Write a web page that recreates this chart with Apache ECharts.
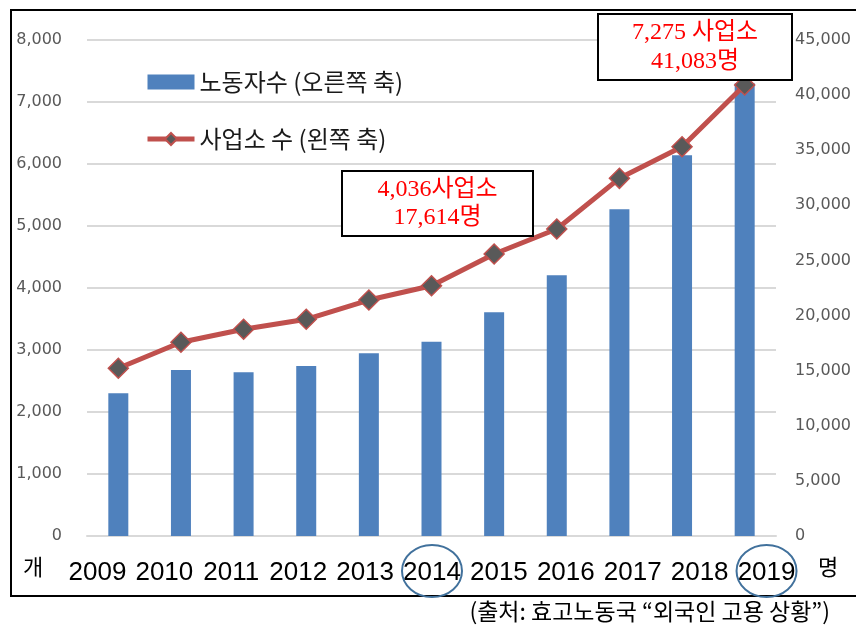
<!DOCTYPE html>
<html>
<head>
<meta charset="utf-8">
<script src="https://cdn.jsdelivr.net/npm/echarts@6/dist/echarts.min.js"></script>
<style>
  html, body { margin: 0; padding: 0; background: #fff; }
  #main { width: 856px; height: 625px; }
</style>
</head>
<body>
<div id="main"></div>
<script>
// 연도
var years = ['2009', '2010', '2011', '2012', '2013', '2014', '2015', '2016', '2017', '2018', '2019'];
// 노동자수 (명, 오른쪽 축)
var workers = [12950, 15060, 14850, 15420, 16580, 17614, 20290, 23650, 29640, 34540, 41083];
// 사업소 수 (개, 왼쪽 축)
var offices = [2705, 3124, 3334, 3495, 3806, 4036, 4548, 4952, 5769, 6279, 7275];

var barName = '노동자수 (오른쪽 축)';
var lineName = '사업소 수 (왼쪽 축)';

function comma(v) {
	return String(v).replace(/\B(?=(\d{3})+(?!\d))/g, ',');
}

var myChart = echarts.init(document.getElementById('main'));
var krFont = 'Noto Sans CJK KR, Liberation Sans, sans-serif';
var serifFont = 'Liberation Serif, Noto Sans CJK KR, serif';

var option = {
	animation: false,
	grid: [
		{ left: 87, right: 80, top: 40, bottom: 89 },
		// 연도 라벨은 원본처럼 막대보다 조금 넓게 퍼져 있다
		{ left: 64, right: 56, top: 40, bottom: 89 }
	],
	legend: {
		orient: 'vertical',
		left: 140,
		top: 65,
		itemWidth: 47,
		itemHeight: 15,
		itemGap: 33,
		textStyle: { fontSize: 24, color: '#1a1a1a', fontFamily: krFont },
		data: [
			{ name: barName, icon: 'rect', itemStyle: { borderWidth: 0 } },
			{ name: lineName, lineStyle: { width: 5 } }
		]
	},
	xAxis: [{
		type: 'category',
		data: years,
		axisTick: { show: false },
		axisLine: { lineStyle: { color: '#d9d9d9', width: 2 } },
		axisLabel: { show: false }
	}, {
		type: 'category',
		gridIndex: 1,
		data: years,
		axisTick: { show: false },
		axisLine: { show: false },
		splitLine: { show: false },
		axisLabel: { interval: 0, hideOverlap: false, color: '#000', fontSize: 26, margin: 24, fontFamily: 'Liberation Sans, Arial, sans-serif' }
	}],
	yAxis: [{
		type: 'value',
		min: 0, max: 8000, interval: 1000,
		axisLine: { show: false },
		axisTick: { show: false },
		splitLine: { lineStyle: { color: '#d9d9d9', width: 2 } },
		axisLabel: { color: '#595959', fontSize: 16, margin: 25, fontFamily: 'DejaVu Sans, sans-serif', formatter: comma }
	}, {
		type: 'value',
		min: 0, max: 45000, interval: 5000,
		axisLine: { show: false },
		axisTick: { show: false },
		splitLine: { show: false },
		axisLabel: { color: '#595959', fontSize: 16, margin: 19, fontFamily: 'DejaVu Sans, sans-serif', formatter: comma }
	}, {
		type: 'value',
		gridIndex: 1,
		show: false,
		min: 0, max: 1
	}],
	series: [{
		name: barName,
		type: 'bar',
		yAxisIndex: 1,
		data: workers,
		barWidth: 20,
		itemStyle: { color: '#4f81bd' }
	}, {
		name: lineName,
		type: 'line',
		yAxisIndex: 0,
		data: offices,
		z: 5,
		symbol: 'diamond',
		symbolSize: 20,
		lineStyle: { color: '#c0504d', width: 5 },
		itemStyle: { color: '#595959', borderColor: '#c0504d', borderWidth: 1.5 }
	}]
};
myChart.setOption(option);

// 주석, 테두리, 단위, 출처
function annoBox(x, y, w, h, line1, line2) {
	return [{
		type: 'rect', z: 20,
		shape: { x: x, y: y, width: w, height: h },
		style: { fill: '#fff', stroke: '#000', lineWidth: 2 }
	}, {
		type: 'text', z: 21, x: x + w / 2, y: y + h * 0.29,
		style: { text: line1, fill: '#ff0000', font: '24px ' + serifFont, align: 'center', verticalAlign: 'middle' }
	}, {
		type: 'text', z: 21, x: x + w / 2, y: y + h * 0.72,
		style: { text: line2, fill: '#ff0000', font: '24px ' + serifFont, align: 'center', verticalAlign: 'middle' }
	}];
}

var p2014 = myChart.convertToPixel({ xAxisIndex: 1 }, '2014');
var p2019 = myChart.convertToPixel({ xAxisIndex: 1 }, '2019');

var graphics = [{
	type: 'rect', z: 0,
	shape: { x: 11, y: 10, width: 870, height: 586 },
	style: { fill: 'none', stroke: '#000', lineWidth: 2 }
}, {
	type: 'ellipse', z: 22,
	shape: { cx: p2014, cy: 571, rx: 30, ry: 26 },
	style: { fill: 'none', stroke: '#41719c', lineWidth: 2 }
}, {
	type: 'ellipse', z: 22,
	shape: { cx: p2019, cy: 571, rx: 30, ry: 26 },
	style: { fill: 'none', stroke: '#41719c', lineWidth: 2 }
}, {
	type: 'text', x: 33, y: 567,
	style: { text: '개', fill: '#000', font: '22px ' + krFont, align: 'center', verticalAlign: 'middle' }
}, {
	type: 'text', x: 828, y: 567,
	style: { text: '명', fill: '#000', font: '22px ' + krFont, align: 'center', verticalAlign: 'middle' }
}, {
	type: 'text', x: 830, y: 611,
	style: { text: '(출처: 효고노동국 “외국인 고용 상황”)', fill: '#000', font: '23px ' + krFont, align: 'right', verticalAlign: 'middle' }
}];
graphics = graphics.concat(annoBox(342, 171, 191, 65, '4,036사업소', '17,614명'));
graphics = graphics.concat(annoBox(598, 14, 194, 66, '7,275 사업소', '41,083명'));

myChart.setOption({ graphic: graphics });
</script>
</body>
</html>
